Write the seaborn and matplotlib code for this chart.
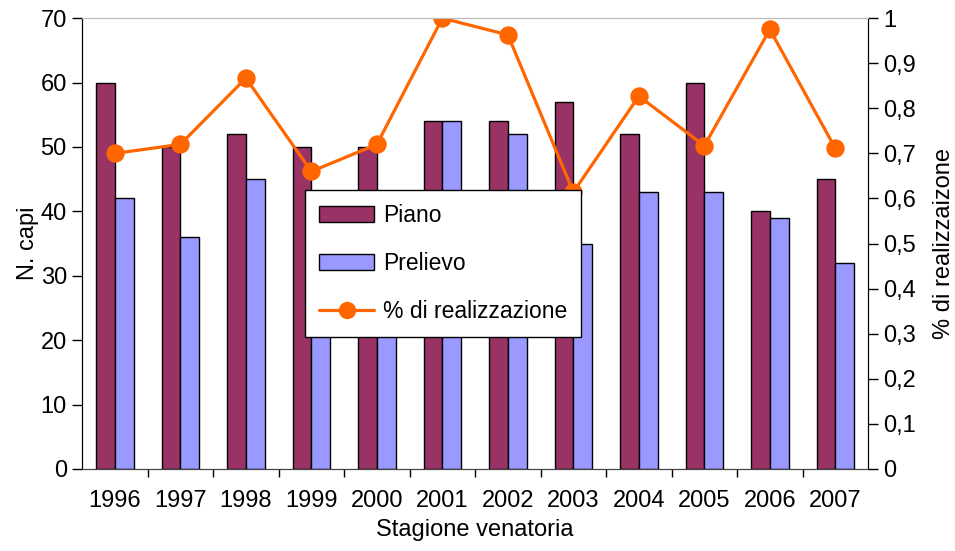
import numpy as np
import pandas as pd
import matplotlib
matplotlib.use("Agg")
import matplotlib.pyplot as plt
import seaborn as sns
from matplotlib.lines import Line2D
from matplotlib.ticker import FuncFormatter, MultipleLocator, FixedLocator

# -------- dati --------
anni = ["1996", "1997", "1998", "1999", "2000", "2001",
        "2002", "2003", "2004", "2005", "2006", "2007"]
piano = [60, 50, 52, 50, 50, 54, 54, 57, 52, 60, 40, 45]
prelievo = [42, 36, 45, 33, 36, 54, 52, 35, 43, 43, 39, 32]
realizzazione = [0.70, 0.72, 0.867, 0.66, 0.72, 1.0,
                 0.963, 0.614, 0.827, 0.717, 0.975, 0.711]

COL_PIANO = "#993366"
COL_PRELIEVO = "#9999FF"
COL_LINE = "#FF6600"

sns.set_style("ticks")
plt.rcParams["font.family"] = ["Liberation Sans", "DejaVu Sans"]
plt.rcParams["font.size"] = 17
for k in ["text.color", "axes.labelcolor", "xtick.color", "ytick.color"]:
    plt.rcParams[k] = "black"

df = pd.DataFrame({"Anno": anni, "Piano": piano, "Prelievo": prelievo})
df_long = df.melt(id_vars="Anno", var_name="Serie", value_name="Capi")
df_line = pd.DataFrame({"Anno": anni, "Perc": realizzazione})

fig = plt.figure(figsize=(9.55, 5.51), dpi=100)
ax = fig.add_axes([0.086, 0.149, 0.823, 0.818])

sns.barplot(data=df_long, x="Anno", y="Capi", hue="Serie",
            palette=[COL_PIANO, COL_PRELIEVO], width=0.57,
            edgecolor="black", linewidth=1, saturation=1, ax=ax)
ax.get_legend().remove()

ax2 = ax.twinx()
sns.pointplot(data=df_line, x="Anno", y="Perc", color=COL_LINE,
              markers="o", markersize=11.5, linewidth=2.3, ax=ax2)

for a in (ax, ax2):
    a.set_xlim(-0.5, len(anni) - 0.5)

ax.set_ylim(0, 70)
ax.yaxis.set_major_locator(MultipleLocator(10))
ax2.set_ylim(0, 1)
ax2.yaxis.set_major_locator(MultipleLocator(0.1))
ax2.yaxis.set_major_formatter(
    FuncFormatter(lambda v, p: ("%g" % round(v, 1)).replace(".", ",")))

ax2.set_xlabel("")
ax.set_xlabel("Stagione venatoria", fontsize=17, labelpad=5)
ax.set_ylabel("N. capi", fontsize=17)
ax.yaxis.set_label_coords(-0.055, 0.5)
ax2.set_ylabel("% di realizzaizone", fontsize=17, labelpad=12)

# tick x tra le categorie
ax.tick_params(axis="x", which="major", length=0, pad=15, labelsize=17)
ax.xaxis.set_minor_locator(FixedLocator(np.arange(0.5, len(anni) - 1, 1)))
ax.tick_params(axis="x", which="minor", length=6, width=1, direction="out")
ax.tick_params(axis="y", length=7, width=1, direction="out", pad=4, labelsize=17)
ax2.tick_params(axis="y", length=7, width=1, direction="out", pad=4, labelsize=17)

for a in (ax, ax2):
    a.spines["top"].set_color("#bbbbbb")
    a.spines["left"].set_color("black")
    a.spines["right"].set_color("black")
    a.spines["bottom"].set_color("#444444")

# legenda combinata
h1, l1 = ax.get_legend_handles_labels()
h_line = Line2D([], [], color=COL_LINE, marker="o", markersize=11.5, linewidth=2.3)
leg = ax2.legend(h1[:2] + [h_line], ["Piano", "Prelievo", "% di realizzazione"],
                 loc="upper left", bbox_to_anchor=(0.284, 0.619),
                 borderaxespad=0,
                 frameon=True, fancybox=False, framealpha=1,
                 edgecolor="black", fontsize=16.5, handlelength=2.4,
                 labelspacing=1.1, borderpad=0.6, handletextpad=0.4)
leg.get_frame().set_linewidth(1)

plt.savefig("out.png", dpi=100)
